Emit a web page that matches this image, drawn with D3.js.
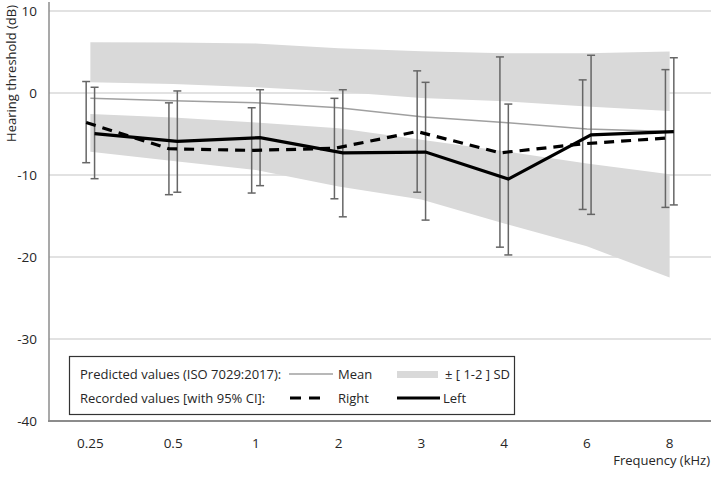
<!DOCTYPE html>
<html><head><meta charset="utf-8">
<script src="https://cdn.jsdelivr.net/npm/d3@7"></script>
<style>body{margin:0;background:#fff}svg{display:block}text{font-family:"Open Sans",sans-serif;fill:#262626}</style>
</head><body><svg id="c" width="720" height="478"></svg>
<script>
const freqs = ["0.25","0.5","1","2","3","4","6","8"];
const yTicks = [10,0,-10,-20,-30,-40];
const meanVals = [-0.65,-0.95,-1.2,-1.8,-2.9,-3.6,-4.4,-4.7];
const plus1SD = [1.3,1.1,0.7,0.15,-0.6,-1.0,-1.65,-2.2];
const plus2SD = [6.2,6.15,6.05,5.45,5.1,4.85,4.85,5.05];
const minus1SD = [-2.55,-3.0,-3.6,-4.3,-5.7,-7.1,-8.6,-9.9];
const minus2SD = [-7.15,-8.3,-9.4,-11.4,-13.0,-15.9,-18.7,-22.5];
const rightVals = [-3.6,-6.8,-7.0,-6.75,-4.7,-7.3,-6.2,-5.5];
const rightHi = [1.4,-1.2,-1.8,-0.65,2.7,4.4,1.6,2.85];
const rightLo = [-8.5,-12.4,-12.2,-12.9,-12.1,-18.8,-14.2,-13.95];
const leftVals = [-4.95,-5.9,-5.45,-7.3,-7.2,-10.5,-5.1,-4.7];
const leftHi = [0.7,0.25,0.4,0.4,1.3,-1.35,4.6,4.3];
const leftLo = [-10.45,-12.1,-11.3,-15.1,-15.5,-19.75,-14.8,-13.65];

const svg = d3.select("#c");
const x = d3.scaleBand().domain(freqs).range([49,711]);
const y = d3.scaleLinear().domain([-40,10]).range([421,11]);
const cx = f => x(f) + x.bandwidth()/2;
const off = 4.2;

// gridlines
svg.append("g").selectAll("line").data(yTicks.filter(t=>t>-40)).join("line")
  .attr("x1",49).attr("x2",711).attr("y1",d=>y(d)).attr("y2",d=>y(d))
  .attr("stroke","#d9d9d9").attr("stroke-width",1.5);

// bands
const upper = freqs.map((f,i)=>({f,a:plus1SD[i],b:plus2SD[i]}));
const lower = freqs.map((f,i)=>({f,a:minus1SD[i],b:minus2SD[i]}));
const area = d3.area().x(d=>cx(d.f)).y0(d=>y(d.a)).y1(d=>y(d.b));
svg.append("path").datum(upper).attr("d",area).attr("fill","#d9d9d9");
svg.append("path").datum(lower).attr("d",area).attr("fill","#d9d9d9");

// axes
const yAxis = svg.append("g").attr("transform","translate(49,0)")
  .call(d3.axisLeft(y).tickValues(yTicks).tickFormat(d=>String(d)).tickSize(0).tickPadding(12));
yAxis.select(".domain").remove();
yAxis.selectAll("text").attr("font-size",13.5).attr("fill","#262626").attr("font-family","'Open Sans',sans-serif").attr("dy","0.35em");
svg.append("line").attr("x1",49).attr("x2",49).attr("y1",2).attr("y2",421)
  .attr("stroke","#8c8c8c").attr("stroke-width",1.5);
svg.append("line").attr("x1",48).attr("x2",711).attr("y1",421).attr("y2",421)
  .attr("stroke","#8c8c8c").attr("stroke-width",2);
const xAxis = svg.append("g").attr("transform","translate(0,421)")
  .call(d3.axisBottom(x).tickSize(0).tickPadding(17));
xAxis.select(".domain").remove();
xAxis.selectAll("text").attr("font-size",13.5).attr("fill","#262626").attr("font-family","'Open Sans',sans-serif");

svg.append("text").attr("transform","translate(16,5) rotate(-90)")
  .attr("text-anchor","end").attr("font-size",13).text("Hearing threshold (dB)");
svg.append("text").attr("x",710).attr("y",465).attr("text-anchor","end")
  .attr("font-size",13).text("Frequency (kHz)");

// mean
svg.append("path").datum(meanVals).attr("fill","none").attr("stroke","#a0a0a0").attr("stroke-width",1.5)
  .attr("d",d3.line().x((d,i)=>cx(freqs[i])).y(d=>y(d)));

// error bars
function errBars(vals,hi,lo,dx){
  const g = svg.append("g").attr("stroke","#666").attr("stroke-width",1.5);
  freqs.forEach((f,i)=>{
    const xx = cx(f)+dx;
    g.append("line").attr("x1",xx).attr("x2",xx).attr("y1",y(hi[i])).attr("y2",y(lo[i]));
    g.append("line").attr("x1",xx-4).attr("x2",xx+4).attr("y1",y(hi[i])).attr("y2",y(hi[i]));
    g.append("line").attr("x1",xx-4).attr("x2",xx+4).attr("y1",y(lo[i])).attr("y2",y(lo[i]));
  });
}
errBars(rightVals,rightHi,rightLo,-off);
errBars(leftVals,leftHi,leftLo,off);

svg.append("path").datum(rightVals).attr("fill","none").attr("stroke","#000").attr("stroke-width",3.2)
  .attr("stroke-dasharray","10,7")
  .attr("d",d3.line().x((d,i)=>cx(freqs[i])-off).y(d=>y(d)));
svg.append("path").datum(leftVals).attr("fill","none").attr("stroke","#000").attr("stroke-width",3.2)
  .attr("d",d3.line().x((d,i)=>cx(freqs[i])+off).y(d=>y(d)));

// legend
const lg = svg.append("g");
lg.append("rect").attr("x",69.5).attr("y",356.5).attr("width",445).attr("height",58)
  .attr("fill","#fff").attr("stroke","#333").attr("stroke-width",1.2);
lg.append("text").attr("x",80).attr("y",379).attr("font-size",13).text("Predicted values (ISO 7029:2017):");
lg.append("text").attr("x",80).attr("y",403).attr("font-size",13).text("Recorded values [with 95% CI]:");
lg.append("line").attr("x1",289).attr("x2",333).attr("y1",374).attr("y2",374).attr("stroke","#a0a0a0").attr("stroke-width",1.5);
lg.append("text").attr("x",338).attr("y",379).attr("font-size",13).text("Mean");
lg.append("rect").attr("x",397).attr("y",371).attr("width",41).attr("height",7).attr("fill","#d9d9d9");
lg.append("text").attr("x",445).attr("y",379).attr("font-size",13).text("± [ 1-2 ] SD");
lg.append("line").attr("x1",290).attr("x2",326).attr("y1",398).attr("y2",398).attr("stroke","#000").attr("stroke-width",3.2).attr("stroke-dasharray","11,8");
lg.append("text").attr("x",338).attr("y",403).attr("font-size",13).text("Right");
lg.append("line").attr("x1",397).attr("x2",440).attr("y1",398).attr("y2",398).attr("stroke","#000").attr("stroke-width",3.2);
lg.append("text").attr("x",443).attr("y",403).attr("font-size",13).text("Left");
</script></body></html>
